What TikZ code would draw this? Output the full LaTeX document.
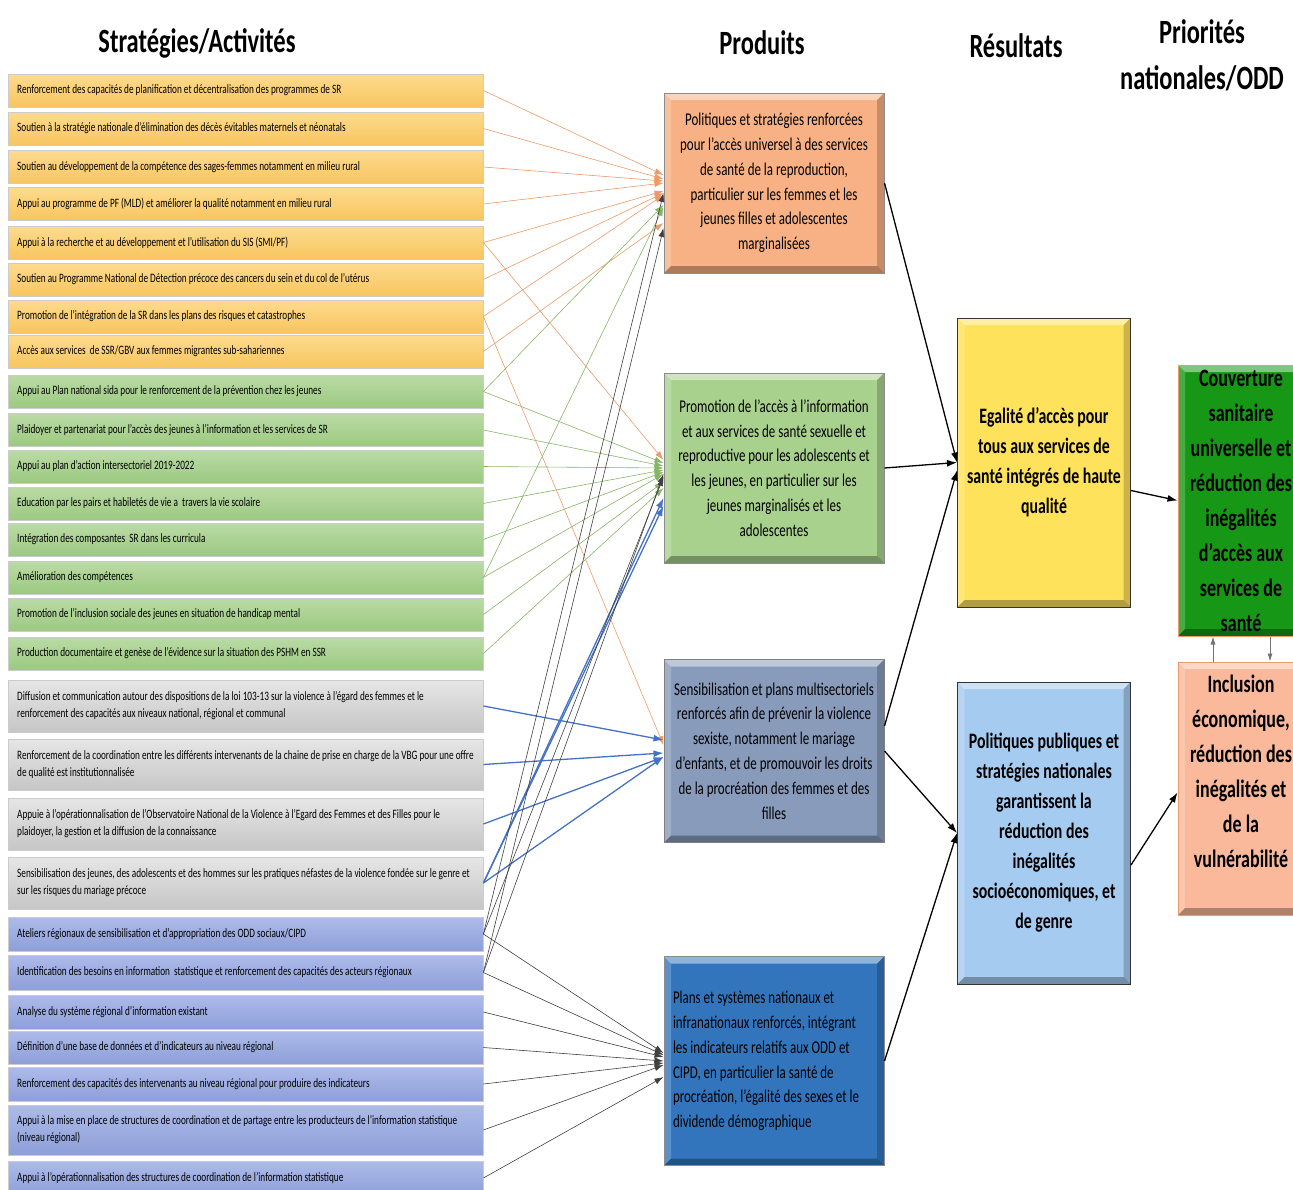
\documentclass[tikz,border=0pt]{standalone}
\usepackage{fontspec}
\setmainfont[FakeStretch=0.72]{Carlito}
\usetikzlibrary{positioning}
\usetikzlibrary{arrows.meta}

\definecolor{orTop}{HTML}{FDDB8E}
\definecolor{orBot}{HTML}{F8C55F}
\definecolor{grTop}{HTML}{BADBA5}
\definecolor{grBot}{HTML}{9CC981}
\definecolor{gyTop}{HTML}{E6E6E6}
\definecolor{gyBot}{HTML}{C6C6C6}
\definecolor{blTop}{HTML}{ADBBEA}
\definecolor{blBot}{HTML}{8E9FD8}
\definecolor{orLine}{HTML}{EE9A68}
\definecolor{grLine}{HTML}{86B565}
\definecolor{blLine}{HTML}{4472C4}

\begin{document}
\begin{tikzpicture}[x=1pt, y=-1pt,
  act/.style={anchor=west, text width=457pt, inner xsep=9pt, inner ysep=0pt, align=flush left, font=\fontsize{12.8}{17}\selectfont, draw=white!80!black, line width=0.4pt},
  actOr/.style={act, top color=orTop, bottom color=orBot},
  actGr/.style={act, top color=grTop, bottom color=grBot},
  actGy/.style={act, top color=gyTop, bottom color=gyBot},
  actBl/.style={act, top color=blTop, bottom color=blBot},
  bevel/.style={path picture={
    \path (path picture bounding box.north west) coordinate (bvNW)
          (path picture bounding box.south east) coordinate (bvSE);
    \fill[white, opacity=0.45] (bvNW) -- (bvNW -| bvSE) -- ([xshift=-7pt,yshift=-7pt]bvNW -| bvSE) -- ([xshift=7pt,yshift=-7pt]bvNW) -- cycle;
    \fill[white, opacity=0.2] (bvNW) -- (bvNW |- bvSE) -- ([xshift=7pt,yshift=7pt]bvNW |- bvSE) -- ([xshift=7pt,yshift=-7pt]bvNW) -- cycle;
    \fill[black, opacity=0.3] (bvNW |- bvSE) -- (bvSE) -- ([xshift=-7pt,yshift=7pt]bvSE) -- ([xshift=7pt,yshift=7pt]bvNW |- bvSE) -- cycle;
    \fill[black, opacity=0.2] (bvNW -| bvSE) -- (bvSE) -- ([xshift=-7pt,yshift=7pt]bvSE) -- ([xshift=-7pt,yshift=-7pt]bvNW -| bvSE) -- cycle;
  }},
  prod/.style={bevel, minimum width=220pt, align=center, font=\fontsize{18}{24.8}\selectfont, draw=#1, line width=1pt},
  res/.style={bevel, minimum width=173pt, align=center, font=\bfseries\fontsize{22}{30}\selectfont, draw=black!80, line width=1pt},
  prio/.style={bevel, minimum width=126pt, align=center, font=\bfseries\fontsize{25}{35}\selectfont, draw=orLine, line width=1pt},
  head/.style={font=\bfseries\fontsize{34}{46}\selectfont, align=center},
  orLink/.style={draw=orLine, line width=0.6pt, -{Latex[length=9pt,width=6pt]}},
  grLink/.style={draw=grLine, line width=0.6pt, -{Latex[length=9pt,width=6pt]}},
  blLink/.style={draw=blLine, line width=1.3pt, -{Latex[length=10pt,width=7pt]}},
  bkLink/.style={draw=black!75, line width=0.6pt, -{Latex[length=9pt,width=6pt]}},
  mainLink/.style={draw=black, line width=1.3pt, -{Latex[length=10pt,width=7pt]}}]
\useasboundingbox (0,0) rectangle (1293,1189);
\clip (0,0) rectangle (1293,1189);

% titres des colonnes
\node[head] (hStrat) at (197,43) {Stratégies/Activités};
\node[head] (hProd) at (762,43) {Produits};
\node[head] (hRes) at (1016,46) {Résultats};
\node[head] (hPrio) at (1202,55) {Priorités\\nationales/ODD};

% activites
\node[actOr, minimum height=33pt] (orA) at (8,90.5) {Renforcement des capacités de planification et décentralisation des programmes de SR};
\node[actOr, minimum height=33pt] (orB) at (8,128.5) {Soutien à la stratégie nationale d’élimination des décès évitables maternels et néonatals};
\node[actOr, minimum height=33pt] (orC) at (8,167) {Soutien au développement de la compétence des sages-femmes notamment en milieu rural};
\node[actOr, minimum height=33pt] (orD) at (8,204) {Appui au programme de PF (MLD) et améliorer la qualité notamment en milieu rural};
\node[actOr, minimum height=33pt] (orE) at (8,242.5) {Appui à la recherche et au développement et l’utilisation du SIS (SMI/PF)};
\node[actOr, minimum height=33pt] (orF) at (8,279.5) {Soutien au Programme National de Détection précoce des cancers du sein et du col de l’utérus};
\node[actOr, minimum height=33pt] (orG) at (8,316.5) {Promotion de l’intégration de la SR dans les plans des risques et catastrophes};
\node[actOr, minimum height=33pt] (orH) at (8,351.5) {Accès aux services\ \ de SSR/GBV aux femmes migrantes sub-sahariennes};

\node[actGr, minimum height=33pt] (grA) at (8,391.5) {Appui au Plan national sida pour le renforcement de la prévention chez les jeunes};
\node[actGr, minimum height=33pt] (grB) at (8,430) {Plaidoyer et partenariat pour l’accès des jeunes à l’information et les services de SR};
\node[actGr, minimum height=33pt] (grC) at (8,466.5) {Appui au plan d’action intersectoriel 2019-2022};
\node[actGr, minimum height=33pt] (grD) at (8,503.5) {Education par les pairs et habiletés de vie a\ \ travers la vie scolaire};
\node[actGr, minimum height=33pt] (grE) at (8,539.5) {Intégration des composantes\ \ SR dans les curricula};
\node[actGr, minimum height=33pt] (grF) at (8,577.5) {Amélioration des compétences};
\node[actGr, minimum height=33pt] (grG) at (8,614.5) {Promotion de l’inclusion sociale des jeunes en situation de handicap mental};
\node[actGr, minimum height=33pt] (grH) at (8,653.5) {Production documentaire et genèse de l’évidence sur la situation des PSHM en SSR};

\node[actGy, minimum height=52pt] (gyA) at (8,706) {\mbox{Diffusion et communication autour des dispositions de la loi 103-13 sur la violence à l’égard des femmes et le}\\renforcement des capacités aux niveaux national, régional et communal};
\node[actGy, minimum height=51pt] (gyB) at (8,764.5) {\mbox{Renforcement de la coordination entre les différents intervenants de la chaine de prise en charge de la VBG pour une offre}\\de qualité est institutionnalisée};
\node[actGy, minimum height=52pt] (gyC) at (8,824) {\mbox{Appuie à l’opérationnalisation de l’Observatoire National de la Violence à l’Egard des Femmes et des Filles pour le}\\plaidoyer, la gestion et la diffusion de la connaissance};
\node[actGy, minimum height=52pt] (gyD) at (8,883) {\mbox{Sensibilisation des jeunes, des adolescents et des hommes sur les pratiques néfastes de la violence fondée sur le genre et}\\sur les risques du mariage précoce};

\node[actBl, minimum height=34pt] (blA) at (8,934) {Ateliers régionaux de sensibilisation et d’appropriation des ODD sociaux/CIPD};
\node[actBl, minimum height=35pt] (blB) at (8,972.5) {Identification des besoins en information\ \ statistique et renforcement des capacités des acteurs régionaux};
\node[actBl, minimum height=34pt] (blC) at (8,1012) {Analyse du système régional d’information existant};
\node[actBl, minimum height=33pt] (blD) at (8,1047.5) {Définition d’une base de données et d’indicateurs au niveau régional};
\node[actBl, minimum height=34pt] (blE) at (8,1084) {Renforcement des capacités des intervenants au niveau régional pour produire des indicateurs};
\node[actBl, minimum height=50pt] (blF) at (8,1130) {\mbox{Appui à la mise en place de structures de coordination et de partage entre les producteurs de l’information statistique}\\(niveau régional)};
\node[actBl, minimum height=34pt] (blG) at (8,1178) {Appui à l’opérationnalisation des structures de coordination de l’information statistique};

% produits
\node[prod=black!45, fill={rgb,255:red,248;green,177;blue,132}, minimum height=180pt] (pHealth) at (774,183) {Politiques et stratégies renforcées\\pour l'accès universel à des services\\de santé de la reproduction,\\particulier sur les femmes et les\\jeunes filles et adolescentes\\marginalisées};
\node[prod=black!45, fill={rgb,255:red,169;green,209;blue,142}, minimum height=190pt] (pYouth) at (774,468) {Promotion de l'accès à l'information\\et aux services de santé sexuelle et\\reproductive pour les adolescents et\\les jeunes, en particulier sur les\\jeunes marginalisés et les\\adolescentes};
\node[prod=black!50, fill={rgb,255:red,136;green,155;blue,187}, minimum height=183pt] (pViolence) at (774,751) {Sensibilisation et plans multisectoriels\\renforcés afin de prévenir la violence\\sexiste, notamment le mariage\\d'enfants, et de promouvoir les droits\\de la procréation des femmes et des\\filles};
\node[prod=black!45, fill={rgb,255:red,51;green,117;blue,189}, minimum height=209pt, align=flush left, text width=202pt, inner xsep=9pt] (pPlans) at (774,1061) {Plans et systèmes nationaux et\\infranationaux renforcés, intégrant\\les indicateurs relatifs aux ODD et\\CIPD, en particulier la santé de\\\mbox{procréation, l'égalité des sexes et le}\\dividende démographique};

% resultats
\node[res, fill={rgb,255:red,255;green,226;blue,92}, minimum height=289pt] (rAccess) at (1044,462.5) {Egalité d'accès pour\\tous aux services de\\santé intégrés de haute\\qualité};
\node[res, fill={rgb,255:red,166;green,203;blue,240}, minimum height=302pt] (rPolicy) at (1044,833) {Politiques publiques et\\stratégies nationales\\garantissent la\\réduction des\\inégalités\\socioéconomiques, et\\de genre};

% priorites nationales
\node[prio, fill={rgb,255:red,22;green,152;blue,22}, minimum height=271pt] (nCover) at (1241,500.5) {Couverture\\sanitaire\\universelle et\\réduction des\\inégalités\\d'accès aux\\services de\\santé};
\node[prio, fill={rgb,255:red,249;green,185;blue,154}, minimum height=253pt] (nInclusion) at (1241,788.5) {Inclusion\\économique,\\réduction des\\inégalités et\\de la\\vulnérabilité\\\mbox{}};

% liens activites -> produits
\draw[orLink] (orA.east) -- ([yshift=8pt]pHealth.west);
\draw[orLink] (orB.east) -- ([yshift=4pt]pHealth.west);
\draw[orLink] (orC.east) -- ([yshift=2pt]pHealth.west);
\draw[orLink] (orD.east) -- (pHealth.west);
\draw[orLink] (orE.east) -- ([yshift=-8pt]pHealth.west);
\draw[orLink] (orE.east) -- ([yshift=8pt]pYouth.west);
\draw[orLink] (orF.east) -- ([yshift=-10pt]pHealth.west);
\draw[orLink] (orG.east) -- ([yshift=-12pt]pHealth.west);
\draw[orLink] (orG.east) -- ([yshift=6pt]pViolence.west);
\draw[orLink] (orH.east) -- ([yshift=-40pt]pHealth.west);
\draw[grLink] (grA.east) -- ([yshift=-22pt]pHealth.west);
\draw[grLink] (grF.east) -- ([yshift=-24pt]pHealth.west);
\draw[grLink] (grA.east) -- ([yshift=5pt]pYouth.west);
\draw[grLink] (grB.east) -- ([yshift=2pt]pYouth.west);
\draw[grLink] (grC.east) -- (pYouth.west);
\draw[grLink] (grD.east) -- ([yshift=-2pt]pYouth.west);
\draw[grLink] (grE.east) -- ([yshift=-4pt]pYouth.west);
\draw[grLink] (grF.east) -- ([yshift=-6pt]pYouth.west);
\draw[grLink] (grG.east) -- ([yshift=-14pt]pYouth.west);
\draw[grLink] (grH.east) -- ([yshift=-20pt]pYouth.west);
\draw[blLink] (gyA.east) -- ([yshift=11pt]pViolence.west);
\draw[blLink] (gyB.east) -- ([yshift=-2pt]pViolence.west);
\draw[blLink] (gyC.east) -- ([yshift=-6pt]pViolence.west);
\draw[blLink] (gyD.east) -- ([yshift=-6pt]pViolence.west);
\draw[blLink] (gyD.east) -- ([yshift=-38pt]pYouth.west);
\draw[blLink] (gyD.east) -- ([yshift=-30pt]pYouth.west);
\draw[bkLink] (blA.east) -- ([yshift=-10pt]pHealth.west);
\draw[bkLink] (blB.east) -- ([yshift=-45pt]pHealth.west);
\draw[bkLink] (blB.east) -- ([yshift=-6pt]pYouth.west);
\draw[bkLink] (blA.east) -- ([yshift=-9pt]pYouth.west);
\draw[bkLink] (blA.east) -- ([yshift=8pt]pPlans.west);
\draw[bkLink] (blB.east) -- ([yshift=6pt]pPlans.west);
\draw[bkLink] (blC.east) -- ([yshift=4pt]pPlans.west);
\draw[bkLink] (blD.east) -- (pPlans.west);
\draw[bkLink] (blE.east) -- ([yshift=-2pt]pPlans.west);
\draw[bkLink] (blF.east) -- ([yshift=-4pt]pPlans.west);
\draw[bkLink] (blG.east) -- ([yshift=-16pt]pPlans.west);

% liens produits -> resultats -> priorites
\draw[mainLink] (pHealth.east) -- (rAccess.west);
\draw[mainLink] (pYouth.east) -- (rAccess.west);
\draw[mainLink] ([yshift=25pt]pViolence.east) -- ([yshift=-8pt]rAccess.west);
\draw[mainLink] (pViolence.east) -- (rPolicy.west);
\draw[mainLink] (pPlans.east) -- (rPolicy.west);
\draw[mainLink] ([yshift=-28pt]rAccess.east) -- (nCover.west);
\draw[mainLink] ([yshift=-32pt]rPolicy.east) -- ([yshift=-4pt]nInclusion.west);
\draw[draw=black!55, line width=0.8pt, -{Latex[length=8pt,width=5pt]}] ([xshift=-28pt]nInclusion.north) -- ([xshift=-28pt]nCover.south);
\draw[draw=black!55, line width=0.8pt, -{Latex[length=8pt,width=5pt]}] ([xshift=29pt]nCover.south) -- ([xshift=29pt]nInclusion.north);
\end{tikzpicture}
\end{document}
